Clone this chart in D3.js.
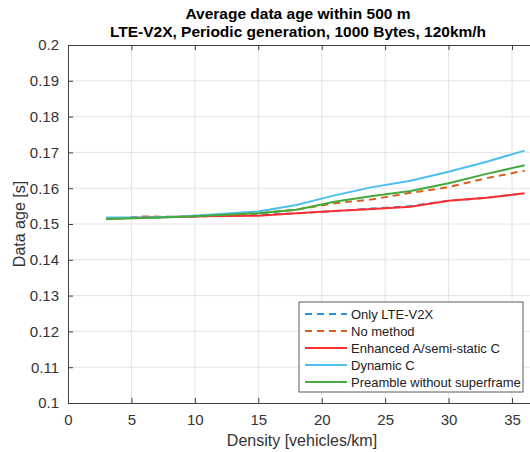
<!DOCTYPE html>
<html>
<head>
<meta charset="utf-8">
<script src="https://cdn.jsdelivr.net/npm/d3@7.9.0/dist/d3.min.js"></script>
<style>
  body { margin: 0; background: #fff; }
  svg { font-family: "Liberation Sans", Arial, sans-serif; }
</style>
</head>
<body>
<div id="chart"></div>
<script>
const density = [3, 6, 9, 12, 15, 18, 21, 24, 27, 30, 33, 36];
const onlyLte = [0.1515, 0.1518, 0.1520, 0.1523, 0.1525, 0.1530, 0.1536, 0.1543, 0.1550, 0.1565, 0.1573, 0.1586];
const noMethod = [0.1514, 0.1521, 0.1520, 0.1524, 0.1530, 0.1540, 0.1558, 0.1569, 0.1587, 0.1603, 0.1628, 0.1649];
const enhanced = [0.1515, 0.1518, 0.1520, 0.1522, 0.1523, 0.1530, 0.1536, 0.1542, 0.1548, 0.1565, 0.1573, 0.1586];
const dynamicC = [0.1518, 0.1518, 0.1521, 0.1528, 0.1535, 0.1553, 0.1580, 0.1603, 0.1621, 0.1646, 0.1674, 0.1705];
const preamble = [0.1514, 0.1517, 0.1520, 0.1525, 0.1530, 0.1540, 0.1562, 0.1578, 0.1592, 0.1614, 0.1640, 0.1664];
const xTicks = [0, 5, 10, 15, 20, 25, 30, 35];
const yTicks = [0.1, 0.11, 0.12, 0.13, 0.14, 0.15, 0.16, 0.17, 0.18, 0.19, 0.2];

const series = [
  {name: "Only LTE-V2X", values: onlyLte, color: "#2f8fd8", dash: "7,5"},
  {name: "No method", values: noMethod, color: "#d9601f", dash: "7,5"},
  {name: "Enhanced A/semi-static C", values: enhanced, color: "#ff2d2d", dash: null},
  {name: "Dynamic C", values: dynamicC, color: "#4dbeee", dash: null},
  {name: "Preamble without superframe", values: preamble, color: "#44aa3c", dash: null}
];

const width = 530, height = 452;
const margin = {top: 45, left: 68, bottom: 49};

const x = d3.scaleLinear().domain([0, 36.5]).range([margin.left, margin.left + 36.5 * 12.686]);
const y = d3.scaleLinear().domain([0.1, 0.2]).range([height - margin.bottom, margin.top]);

const svg = d3.select("#chart").append("svg")
  .attr("width", width)
  .attr("height", height);

const axisColor = "#404040";

// grid
svg.append("g").selectAll("line.gx").data(xTicks.slice(1)).enter().append("line")
  .attr("x1", d => x(d)).attr("x2", d => x(d))
  .attr("y1", y(0.1)).attr("y2", y(0.2))
  .attr("stroke", "#e4e4e4").attr("stroke-width", 1);
svg.append("g").selectAll("line.gy").data(yTicks.slice(1, -1)).enter().append("line")
  .attr("x1", x(0)).attr("x2", width)
  .attr("y1", d => y(d)).attr("y2", d => y(d))
  .attr("stroke", "#e4e4e4").attr("stroke-width", 1);

// axes
const xAxis = svg.append("g")
  .attr("transform", `translate(0,${y(0.1)})`)
  .call(d3.axisBottom(x).tickValues(xTicks).tickSizeInner(-5).tickSizeOuter(0).tickPadding(11));
const xAxisTop = svg.append("g")
  .attr("transform", `translate(0,${y(0.2)})`)
  .call(d3.axisTop(x).tickValues(xTicks).tickSizeInner(-5).tickSizeOuter(0).tickFormat(""));
const yAxis = svg.append("g")
  .attr("transform", `translate(${x(0)},0)`)
  .call(d3.axisLeft(y).tickValues(yTicks).tickSizeInner(-5).tickSizeOuter(0).tickPadding(9)
    .tickFormat(d => String(+d.toFixed(2))));

[xAxis, xAxisTop, yAxis].forEach(g => {
  g.select(".domain").attr("stroke", axisColor);
  g.selectAll(".tick line").attr("stroke", axisColor);
  g.selectAll("text").attr("fill", "#333").style("font-size", "15px");
});

// lines
const line = d3.line()
  .x((d, i) => x(density[i]))
  .y(d => y(d));

svg.append("g").selectAll("path").data(series).enter().append("path")
  .attr("d", d => line(d.values))
  .attr("fill", "none")
  .attr("stroke", d => d.color)
  .attr("stroke-width", 2)
  .attr("stroke-dasharray", d => d.dash);

// titles
svg.append("text")
  .attr("x", 298).attr("y", 19)
  .attr("text-anchor", "middle")
  .style("font-size", "15.5px").style("font-weight", "bold").attr("fill", "#000")
  .text("Average data age within 500 m");
svg.append("text")
  .attr("x", 298).attr("y", 37)
  .attr("text-anchor", "middle")
  .style("font-size", "15.5px").style("font-weight", "bold").attr("fill", "#000")
  .text("LTE-V2X, Periodic generation, 1000 Bytes, 120km/h");

svg.append("text")
  .attr("x", 302).attr("y", 446)
  .attr("text-anchor", "middle")
  .style("font-size", "16px").attr("fill", "#333")
  .text("Density [vehicles/km]");
svg.append("text")
  .attr("transform", `translate(25,${y(0.15)}) rotate(-90)`)
  .attr("text-anchor", "middle")
  .style("font-size", "16px").attr("fill", "#333")
  .text("Data age [s]");

// legend
const lg = svg.append("g").attr("transform", "translate(299,302)");
lg.append("rect")
  .attr("width", 224).attr("height", 90)
  .attr("fill", "#fff").attr("stroke", "#333").attr("stroke-width", 0.8);
const item = lg.selectAll("g.item").data(series).enter().append("g")
  .attr("transform", (d, i) => `translate(0,${12 + i * 17})`);
item.append("line")
  .attr("x1", 6).attr("x2", 48)
  .attr("stroke", d => d.color).attr("stroke-width", 2)
  .attr("stroke-dasharray", d => d.dash);
item.append("text")
  .attr("x", 52).attr("dy", "0.35em")
  .style("font-size", "13px").attr("fill", "#222")
  .text(d => d.name);
</script>
</body>
</html>
